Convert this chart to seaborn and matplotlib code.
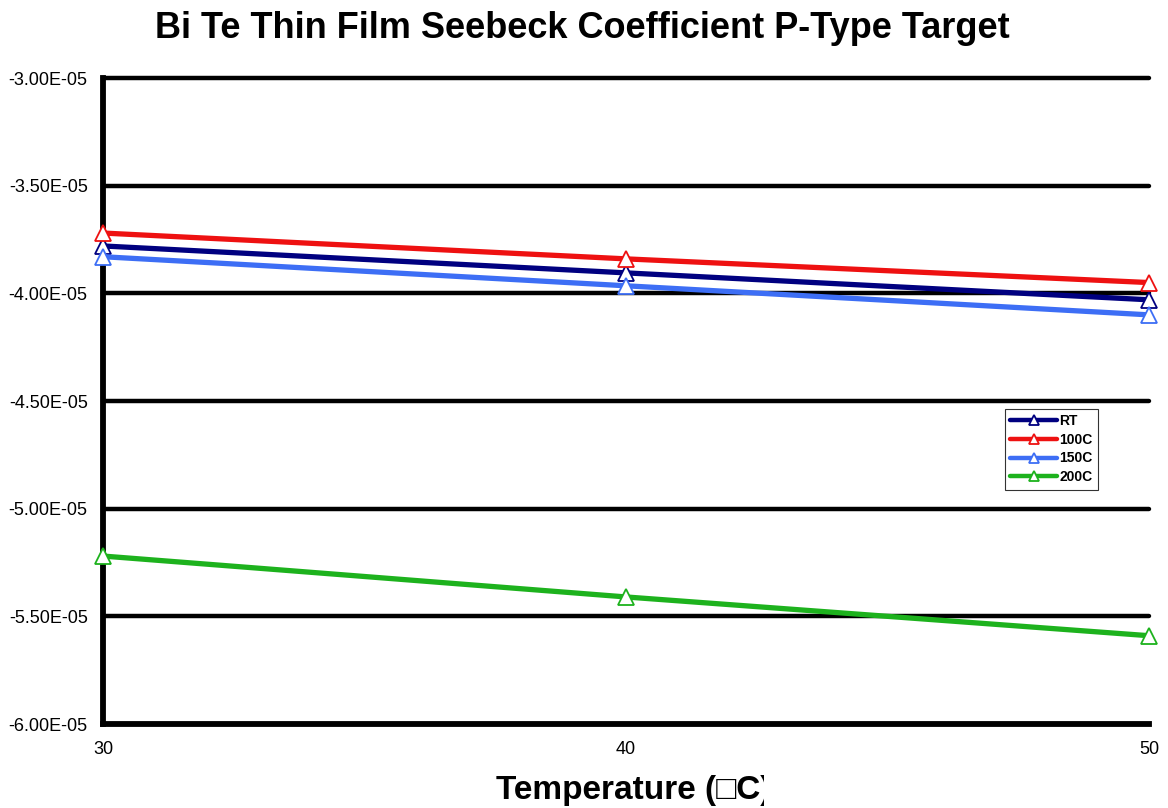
import matplotlib
matplotlib.use("Agg")
import matplotlib.pyplot as plt
from matplotlib.ticker import FuncFormatter, FixedLocator
from matplotlib.transforms import Bbox
import seaborn as sns
import pandas as pd

# Measured Seebeck coefficient (V/K) at each temperature for each anneal condition
temperature = [30, 40, 50]
rt = [-3.78e-5, -3.905e-5, -4.03e-5]
c100 = [-3.72e-5, -3.84e-5, -3.95e-5]
c150 = [-3.83e-5, -3.965e-5, -4.10e-5]
c200 = [-5.22e-5, -5.41e-5, -5.59e-5]
series_names = ["RT", "100C", "150C", "200C"]
series_values = [rt, c100, c150, c200]
colors = ["#000080", "#EE1111", "#3D6EF5", "#1DB21D"]
y_ticks = [-3.0e-5, -3.5e-5, -4.0e-5, -4.5e-5, -5.0e-5, -5.5e-5, -6.0e-5]
x_ticks = [30, 40, 50]

sns.set_theme(style="white")
plt.rcParams["font.family"] = ["Liberation Sans", "DejaVu Sans"]
plt.rcParams["text.color"] = "black"
plt.rcParams["xtick.color"] = "black"
plt.rcParams["ytick.color"] = "black"

fig = plt.figure(figsize=(11.68, 8.08), dpi=100)
ax = fig.add_axes([103 / 1168, 1 - 724 / 808, 1046 / 1168, 646 / 808])

df = pd.DataFrame({
    "Temperature": temperature * len(series_names),
    "S": [v for vals in series_values for v in vals],
    "Sample": [n for n in series_names for _ in temperature],
})

# horizontal grid lines at each tick
for yv in y_ticks[:-1]:
    ax.axhline(yv, color="black", lw=3.2, zorder=1, clip_on=False)

for name, color in zip(series_names, colors):
    sub = df[df["Sample"] == name]
    sns.lineplot(data=sub, x="Temperature", y="S", ax=ax, color=color,
                 lw=3.8, marker="^", markersize=11, markerfacecolor="white",
                 markeredgecolor=color, markeredgewidth=1.3, label=name,
                 clip_on=False, zorder=3)

ax.set_xlim(30, 50)
ax.set_ylim(-6.0e-5, -3.0e-5)
ax.yaxis.set_major_locator(FixedLocator(y_ticks))
ax.xaxis.set_major_locator(FixedLocator(x_ticks))
ax.yaxis.set_major_formatter(FuncFormatter(lambda v, p: f"{v:.2E}"))
ax.xaxis.set_major_formatter(FuncFormatter(lambda v, p: f"{v:.0f}"))
ax.tick_params(axis="y", length=0, pad=11, labelsize=13, labelcolor="black")
ax.tick_params(axis="x", direction="inout", length=12, width=3.5,
               color="black", pad=6, labelsize=13, labelcolor="black")
ax.set_xlabel("")
ax.set_ylabel("")

for side in ["top", "right"]:
    ax.spines[side].set_visible(False)
for side in ["left", "bottom"]:
    ax.spines[side].set_color("black")
    ax.spines[side].set_linewidth(4.2)
    ax.spines[side].set_zorder(2)

leg = ax.legend(loc="upper left", bbox_to_anchor=(0.862, 0.488),
                prop={"weight": "bold", "size": 10}, frameon=True,
                fancybox=False, handlelength=3.4, handletextpad=0.15,
                borderpad=0.4, labelspacing=0.33, borderaxespad=0)
leg.get_frame().set_edgecolor("black")
leg.get_frame().set_linewidth(0.8)
for h in leg.get_lines():
    h.set_linewidth(3.2)
    h.set_markersize(7.5)

title = fig.text(155 / 1168, 1 - 29 / 808,
                 "Bi Te Thin Film Seebeck Coefficient P-Type Target",
                 ha="left", va="center", fontsize=26, fontweight="bold")
title.set_clip_box(Bbox([[0, 0], [1019, 808]]))
title.set_clip_on(True)

xl = fig.text(496 / 1168, 1 - 791 / 808, "Temperature (\u25a1C)",
              ha="left", va="center", fontsize=24, fontweight="bold")
xl.set_clip_box(Bbox([[0, 0], [764, 808]]))
xl.set_clip_on(True)

fig.savefig("out.png", dpi=100, facecolor="white")
